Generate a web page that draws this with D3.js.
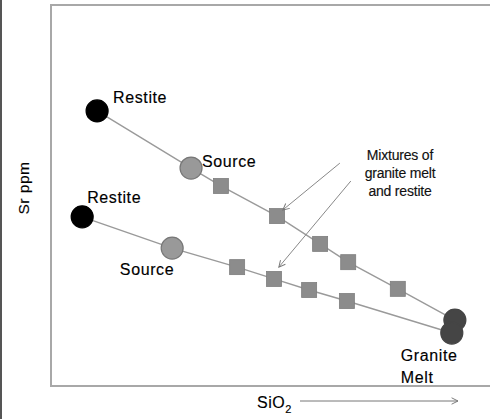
<!DOCTYPE html>
<html>
<head>
<meta charset="utf-8">
<script src="https://cdn.jsdelivr.net/npm/d3@7"></script>
<style>
  html, body { margin: 0; padding: 0; background: #fff; }
  svg { display: block; font-family: "Liberation Sans", Arial, Helvetica, sans-serif; }
</style>
</head>
<body>
<svg id="chart" width="490" height="419"></svg>
<script>
// ---- data (schematic units 0-100 on both axes) ----
const upperSiO2   = [10.5, 31.9, 38.7, 51.5, 61.3, 67.7, 79.0, 92.0];
const upperSr     = [72.2, 57.2, 52.5, 44.6, 37.3, 32.5, 25.5, 17.3];
const upperKinds  = ["restite", "source", "mix", "mix", "mix", "mix", "mix", "melt"];

const lowerSiO2   = [7.1, 27.6, 42.4, 50.8, 58.8, 67.4, 91.3];
const lowerSr     = [44.4, 36.2, 31.2, 28.1, 25.2, 22.3, 13.9];
const lowerKinds  = ["restite", "source", "mix", "mix", "mix", "mix", "melt"];

const pointLabels = ["Restite", "Source", "Restite", "Source", "Granite", "Melt"];
const mixtureLines = ["Mixtures of", "granite melt", "and restite"];
const arrowFromSiO2 = [65.8, 68.3];
const arrowFromSr   = [58.5, 53.8];
const arrowToSiO2   = [52.8, 51.9];
const arrowToSr     = [46.2, 31.2];
const xTitle = "SiO";
const xTitleSub = "2";
const yTitle = "Sr ppm";

// ---- layout ----
const W = 490, H = 419;
const plot = { left: 51, right: 490, top: 5, bottom: 386 };
const x = d3.scaleLinear().domain([0, 100]).range([plot.left, plot.right]);
const y = d3.scaleLinear().domain([0, 100]).range([plot.bottom, plot.top]);

const svg = d3.select("#chart");

// outer left border of the image
svg.append("rect").attr("x", 0).attr("y", 0).attr("width", 2).attr("height", H).attr("fill", "#555");

// frame (top, left, bottom)
svg.append("path")
  .attr("d", `M${W},${plot.top}H${plot.left}V${plot.bottom}H${W}`)
  .attr("stroke", "#a8a8a8").attr("stroke-width", 2).attr("fill", "none");

const defs = svg.append("defs");
defs.append("marker").attr("id", "openArrow")
  .attr("viewBox", "0 0 10 10").attr("refX", 9).attr("refY", 5)
  .attr("markerWidth", 8).attr("markerHeight", 8).attr("markerUnits", "userSpaceOnUse")
  .attr("orient", "auto")
  .append("path").attr("d", "M1,1L9,5L1,9").attr("fill", "none").attr("stroke", "#777").attr("stroke-width", 1.2);

function series(xs, ys, kinds) {
  return xs.map((v, i) => ({ x: v, y: ys[i], kind: kinds[i] }));
}
const upper = series(upperSiO2, upperSr, upperKinds);
const lower = series(lowerSiO2, lowerSr, lowerKinds);

const line = d3.line().x(d => x(d.x)).y(d => y(d.y));
[upper, lower].forEach(s => {
  svg.append("path").attr("d", line(s)).attr("fill", "none")
    .attr("stroke", "#9a9a9a").attr("stroke-width", 1.4);
});

function drawMarkers(s) {
  const g = svg.append("g");
  s.forEach(d => {
    if (d.kind === "mix") {
      const sz = 15;
      g.append("rect").attr("x", x(d.x) - sz / 2).attr("y", y(d.y) - sz / 2)
        .attr("width", sz).attr("height", sz)
        .attr("fill", "#8c8c8c").attr("stroke", "#7e7e7e").attr("stroke-width", 0.8);
    } else {
      const fill = d.kind === "restite" ? "#000" : d.kind === "source" ? "#999" : "#454545";
      const stroke = d.kind === "source" ? "#777" : fill;
      g.append("circle").attr("cx", x(d.x)).attr("cy", y(d.y)).attr("r", 11)
        .attr("fill", fill).attr("stroke", stroke).attr("stroke-width", 1.2);
    }
  });
}
drawMarkers(upper);
drawMarkers(lower);

// point labels
const labelFont = 16;
const labelSpecs = [
  { text: pointLabels[0], p: upper[0], dx: 16, dy: -8, anchor: "start" },
  { text: pointLabels[1], p: upper[1], dx: 11, dy: -1, anchor: "start" },
  { text: pointLabels[2], p: lower[0], dx: 5, dy: -14, anchor: "start" },
  { text: pointLabels[3], p: lower[1], dx: 2, dy: 27, anchor: "end" },
  { text: pointLabels[4], p: lower[6], dx: -51, dy: 28, anchor: "start" },
  { text: pointLabels[5], p: lower[6], dx: -51, dy: 50, anchor: "start" }
];
labelSpecs.forEach(l => {
  svg.append("text").attr("x", x(l.p.x) + l.dx).attr("y", y(l.p.y) + l.dy)
    .attr("text-anchor", l.anchor).attr("font-size", labelFont)
    .attr("letter-spacing", 0.6).attr("fill", "#000")
    .attr("stroke", "#000").attr("stroke-width", 0.15).text(l.text);
});

// mixtures annotation
const mixText = svg.append("text").attr("font-size", 14).attr("fill", "#111")
  .attr("stroke", "#111").attr("stroke-width", 0.15)
  .attr("letter-spacing", -0.2).attr("text-anchor", "middle");
mixtureLines.forEach((t, i) => {
  mixText.append("tspan").attr("x", 400).attr("y", 160 + i * 18).text(t);
});
arrowFromSiO2.forEach((v, i) => {
  svg.append("line")
    .attr("x1", x(v)).attr("y1", y(arrowFromSr[i]))
    .attr("x2", x(arrowToSiO2[i])).attr("y2", y(arrowToSr[i]))
    .attr("stroke", "#888").attr("stroke-width", 1)
    .attr("marker-end", "url(#openArrow)");
});

// axis titles
const xt = svg.append("text").attr("x", 257).attr("y", 408).attr("font-size", 16)
  .attr("letter-spacing", 0.5).attr("fill", "#000").attr("stroke", "#000").attr("stroke-width", 0.15);
xt.append("tspan").text(xTitle);
xt.append("tspan").attr("font-size", 11).attr("dy", 5).text(xTitleSub);

svg.append("line").attr("x1", 300).attr("y1", 401).attr("x2", 458).attr("y2", 401)
  .attr("stroke", "#777").attr("stroke-width", 1).attr("marker-end", "url(#openArrow)");

svg.append("text")
  .attr("transform", "translate(29,188) rotate(-90)")
  .attr("text-anchor", "middle").attr("font-size", 15.5).attr("letter-spacing", 0.5)
  .attr("fill", "#000").attr("stroke", "#000").attr("stroke-width", 0.15).text(yTitle);
</script>
</body>
</html>
